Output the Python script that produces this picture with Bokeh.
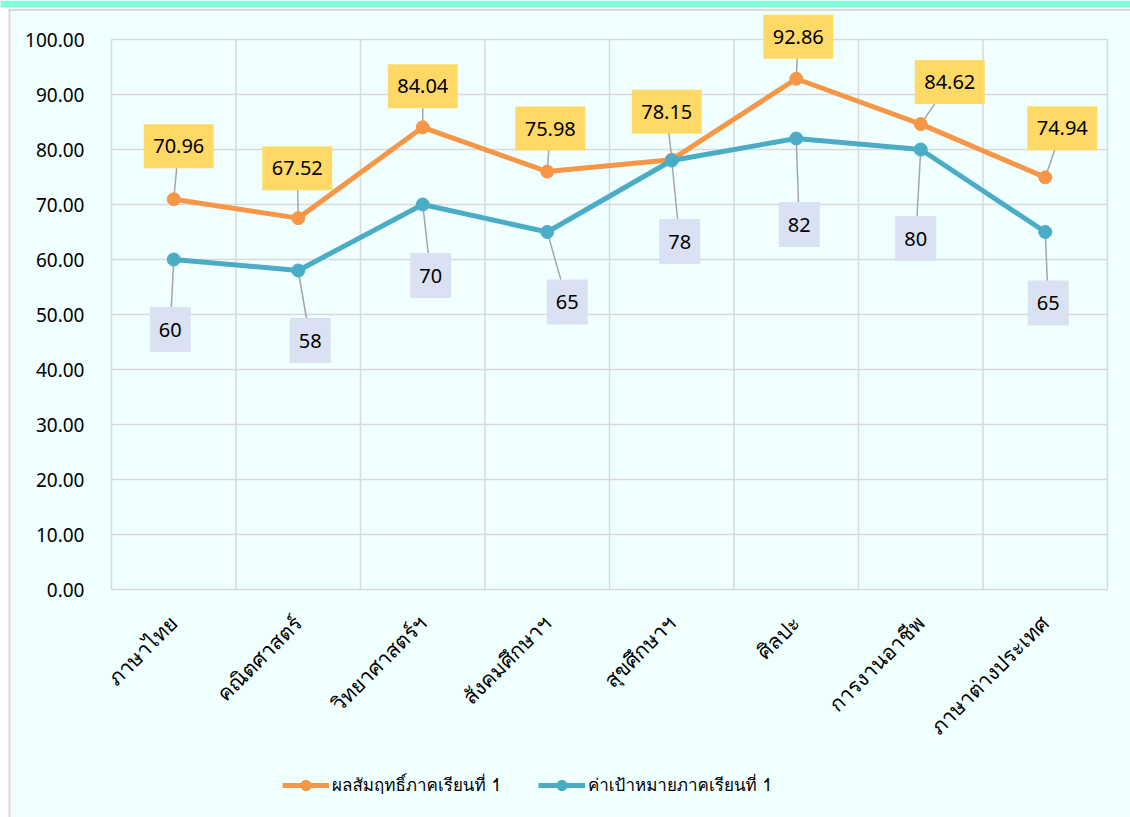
import numpy as np
from bokeh.plotting import figure
from bokeh.models import (Range1d, FixedTicker, Legend, LegendItem, ColumnDataSource,
                          NumeralTickFormatter)
from bokeh.core.properties import value
from bokeh.embed import file_html
from bokeh.resources import INLINE

# ---- data ----
categories = ["ภาษาไทย", "คณิตศาสตร์", "วิทยาศาสตร์ฯ", "สังคมศึกษาฯ",
              "สุขศึกษาฯ", "ศิลปะ", "การงานอาชีพ", "ภาษาต่างประเทศ"]
achievement = [70.96, 67.52, 84.04, 75.98, 78.15, 92.86, 84.62, 74.94]
target = [60, 58, 70, 65, 78, 82, 80, 65]
achievement_labels = ["70.96", "67.52", "84.04", "75.98", "78.15", "92.86", "84.62", "74.94"]
target_labels = ["60", "58", "70", "65", "78", "82", "80", "65"]
series_names = ["ผลสัมฤทธิ์ภาคเรียนที่ 1", "ค่าเป้าหมายภาคเรียนที่ 1"]
y_ticks = [0, 10, 20, 30, 40, 50, 60, 70, 80, 90, 100]

# ---- label placement (screen px offsets, y downward) ----
ach_off = [(5, -53), (-1, -50), (0, -41), (3, -43), (-5, -48), (2, -42), (29, -42), (17, -49)]
tgt_off = [(-3.5, 70), (12, 70), (8, 71), (20, 70), (8, 81), (3, 86), (-5, 89), (3, 71)]

FONT = "Noto Sans"
THAI = "Tahoma, Loma, 'Noto Sans Thai Looped', 'Noto Sans Thai', 'Noto Sans', sans-serif"
BG = "#F0FFFF"
ORANGE = "#F79646"
TEAL = "#4BACC6"
GRID = "#D9D9D9"

W, H = 1130, 817
PL, PT, PR, PB = 111, 39, 1107, 589   # pixel edges of the data area
n = len(categories)
ppx = (PR - PL) / n
ppy = (PB - PT) / 100.0


def X(px):
    return (px - PL) / ppx


def Y(py):
    return (PB - py) / ppy


xs = np.arange(n) + 0.5

p = figure(width=W, height=H, output_backend="svg", toolbar_location=None,
           x_range=Range1d(X(0), X(W)), y_range=Range1d(Y(H), Y(0)),
           min_border=0, background_fill_color=BG, border_fill_color=BG,
           outline_line_color=None)
p.grid.visible = False

# page decoration: white margin, top strip, card border
p.quad(left=[X(0)], right=[X(8)], bottom=[Y(H)], top=[Y(0)], fill_color="white", line_color=None)
p.quad(left=[X(0)], right=[X(W)], bottom=[Y(9)], top=[Y(0)], fill_color="white", line_color=None)
p.quad(left=[X(0)], right=[X(W)], bottom=[Y(7)], top=[Y(0)], fill_color="#80FFD8", line_color=None)
p.segment(x0=[X(9), X(8)], y0=[Y(H), Y(9.5)], x1=[X(9), X(W)], y1=[Y(9), Y(9.5)],
          line_color=GRID, line_width=2)

# grid lines (data area only)
bounds = list(range(n + 1))
p.segment(x0=bounds, y0=[0] * len(bounds), x1=bounds, y1=[100] * len(bounds),
          line_color=GRID, line_width=1.5)
p.segment(x0=[0] * len(y_ticks), y0=y_ticks, x1=[n] * len(y_ticks), y1=y_ticks,
          line_color=GRID, line_width=1.5)

# axes placed at data area edges
p.yaxis.fixed_location = 0
p.xaxis.fixed_location = 0
p.yaxis.ticker = FixedTicker(ticks=y_ticks)
p.yaxis.formatter = NumeralTickFormatter(format="0.00")
p.xaxis.ticker = FixedTicker(ticks=list(xs))
p.xaxis.major_label_overrides = {float(x): c for x, c in zip(xs, categories)}
p.xaxis.major_label_orientation = np.pi / 4
for ax in (p.xaxis, p.yaxis):
    ax.axis_line_color = None
    ax.major_tick_line_color = None
    ax.minor_tick_line_color = None
    ax.major_tick_out = 0
    ax.major_tick_in = 0
    ax.major_label_text_color = "#000000"
p.yaxis.major_label_text_font = FONT
p.yaxis.major_label_text_font_size = "19px"
p.yaxis.major_label_standoff = 27
p.xaxis.major_label_text_font = THAI
p.xaxis.major_label_text_font_size = "21px"
p.xaxis.major_label_standoff = 30

# label positions in data space
ach_lx = [x + o[0] / ppx for x, o in zip(xs, ach_off)]
ach_ly = [v - o[1] / ppy for v, o in zip(achievement, ach_off)]
tgt_lx = [x + o[0] / ppx for x, o in zip(xs, tgt_off)]
tgt_ly = [v - o[1] / ppy for v, o in zip(target, tgt_off)]

# leader lines
p.segment(x0=list(xs), y0=achievement, x1=ach_lx, y1=ach_ly, line_color="#A6A6A6", line_width=1.5)
p.segment(x0=list(xs), y0=target, x1=tgt_lx, y1=tgt_ly, line_color="#A6A6A6", line_width=1.5)

# series
src_a = ColumnDataSource(dict(x=list(xs), y=achievement))
src_t = ColumnDataSource(dict(x=list(xs), y=target))
la = p.line("x", "y", source=src_a, line_color=ORANGE, line_width=5)
ma = p.scatter("x", "y", source=src_a, size=13, fill_color=ORANGE, line_color=ORANGE)
lt = p.line("x", "y", source=src_t, line_color=TEAL, line_width=5)
mt = p.scatter("x", "y", source=src_t, size=13, fill_color=TEAL, line_color=TEAL)

# label boxes
p.rect(x=ach_lx, y=ach_ly, width=70, height=44, width_units="screen", height_units="screen",
       fill_color="#FFD966", line_color=None)
p.rect(x=tgt_lx, y=tgt_ly, width=41, height=45, width_units="screen", height_units="screen",
       fill_color="#DAE1F2", line_color=None)
p.text(x=ach_lx, y=ach_ly, text=achievement_labels, text_align="center", text_baseline="middle",
       text_font=value(FONT), text_font_size="20px", text_color="#000000")
p.text(x=tgt_lx, y=tgt_ly, text=target_labels, text_align="center", text_baseline="middle",
       text_font=value(FONT), text_font_size="20px", text_color="#000000")

legend = Legend(items=[LegendItem(label=series_names[0], renderers=[la, ma]),
                       LegendItem(label=series_names[1], renderers=[lt, mt])],
                orientation="horizontal", location=(282, 19),
                padding=0, margin=0, spacing=37, label_standoff=3,
                glyph_width=47, glyph_height=26,
                background_fill_alpha=0, border_line_color=None,
                label_text_font=THAI, label_text_font_size="17px", label_text_color="#000000")
p.add_layout(legend, "center")

open("out.html", "w").write(file_html(p, INLINE))
